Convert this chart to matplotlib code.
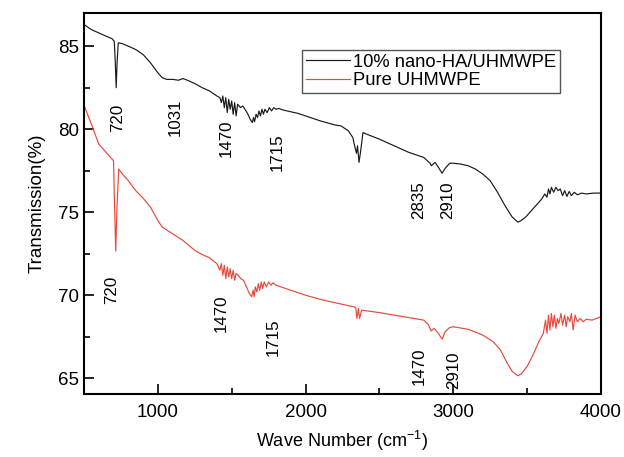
import matplotlib
matplotlib.use("Agg")
import matplotlib.pyplot as plt
from matplotlib.ticker import MultipleLocator

plt.rcParams['font.family'] = ['Liberation Sans', 'DejaVu Sans']
plt.rcParams['mathtext.fontset'] = 'custom'
plt.rcParams['mathtext.rm'] = 'Liberation Sans'
plt.rcParams['mathtext.it'] = 'Liberation Sans'

# 10% nano-HA/UHMWPE spectrum (wave number, transmission %)
ha_wn = [500, 550, 600, 650, 690, 705, 712, 718, 724, 732, 760, 800, 850, 900, 950,
         1000, 1030, 1060, 1100, 1140, 1170, 1200, 1250, 1300, 1350, 1400, 1420,
         1430, 1440, 1450, 1460, 1470, 1480, 1490, 1500, 1510, 1520, 1530, 1540,
         1550, 1560, 1575, 1590, 1610, 1625, 1640, 1648, 1655, 1665, 1675, 1685,
         1695, 1705, 1715, 1725, 1740, 1755, 1770, 1785, 1800, 1820, 1850, 1900,
         1950, 2000, 2100, 2200, 2240, 2290, 2320, 2335, 2345, 2352, 2362, 2372,
         2389, 2400, 2500, 2600, 2700, 2800, 2843, 2852, 2877, 2900, 2924, 2950,
         2978, 3000, 3050, 3100, 3150, 3200, 3250, 3300, 3350, 3400, 3438, 3460,
         3490, 3520, 3550, 3580, 3600, 3620, 3635, 3645, 3655, 3665, 3680, 3695,
         3710, 3725, 3740, 3755, 3770, 3785, 3800, 3820, 3840, 3870, 3900, 3950,
         4000]
ha_t = [86.3, 86.0, 85.8, 85.6, 85.45, 85.3, 84.0, 82.5, 84.0, 85.2, 85.15, 85.0,
        84.8, 84.5, 84.0, 83.4, 83.1, 83.0, 83.0, 82.95, 83.05, 82.95, 82.75, 82.5,
        82.3, 82.0, 81.9, 81.6, 82.0, 81.3, 81.9, 81.0, 81.8, 81.2, 81.7, 80.9,
        81.6, 80.8, 81.5, 81.4, 81.3, 81.4, 81.2, 80.9, 80.6, 80.4, 80.7, 80.45,
        80.9, 80.7, 81.1, 80.8, 81.2, 80.9, 81.2, 81.0, 81.3, 81.1, 81.3, 81.2,
        81.25, 81.15, 81.05, 80.95, 80.8, 80.5, 80.25, 80.2, 79.9, 79.5, 78.9, 78.55,
        79.0, 78.0, 78.6, 79.8, 79.75, 79.4, 79.0, 78.6, 78.3, 77.95, 77.8, 78.0,
        77.7, 77.35, 77.7, 77.95, 77.95, 77.9, 77.8, 77.6, 77.3, 76.9, 76.2, 75.4,
        74.7, 74.4, 74.5, 74.7, 75.0, 75.3, 75.6, 75.8, 76.1, 75.9, 76.4, 76.1,
        76.5, 76.2, 76.5, 76.3, 76.4, 76.0, 76.3, 75.95, 76.25, 76.0, 76.2, 76.05,
        76.15, 76.1, 76.15, 76.15]

# Pure UHMWPE spectrum
pe_wn = [500, 550, 600, 650, 690, 700, 708, 715, 722, 735, 760, 800, 850, 900, 950,
         1000, 1030, 1100, 1170, 1250, 1300, 1350, 1400, 1420, 1430, 1440, 1450,
         1460, 1470, 1480, 1490, 1500, 1510, 1520, 1530, 1545, 1560, 1580, 1600,
         1620, 1635, 1645, 1652, 1660, 1670, 1680, 1690, 1700, 1710, 1720, 1735,
         1750, 1765, 1780, 1800, 1850, 1900, 1950, 2000, 2100, 2200, 2300, 2330,
         2340, 2348, 2358, 2366, 2380, 2500, 2600, 2700, 2800, 2830, 2850, 2870,
         2895, 2925, 2945, 2975, 3000, 3100, 3200, 3270, 3320, 3360, 3400, 3438,
         3460, 3500, 3540, 3580, 3610, 3625, 3635, 3645, 3655, 3665, 3675, 3685,
         3695, 3705, 3715, 3730, 3740, 3755, 3765, 3775, 3790, 3800, 3812, 3825,
         3840, 3860, 3880, 3900, 3940, 3970, 4000]
pe_t = [81.45, 80.3, 79.1, 78.6, 78.2, 78.1, 75.0, 72.65, 75.0, 77.6, 77.3, 76.9,
        76.3, 75.85, 75.3, 74.5, 74.1, 73.7, 73.3, 72.7, 72.45, 72.25, 71.9, 71.5,
        71.9, 71.2, 71.8, 71.0, 71.7, 71.1, 71.6, 71.0, 71.5, 70.9, 71.3, 71.2,
        71.0, 70.9, 70.5, 70.1, 69.9, 70.3, 69.9, 70.5, 70.2, 70.7, 70.3, 70.8,
        70.4, 70.8, 70.5, 70.8, 70.6, 70.75, 70.6, 70.45, 70.3, 70.15, 70.0, 69.75,
        69.55, 69.35, 69.3, 69.25, 68.6, 69.2, 68.6, 69.1, 68.95, 68.8, 68.65, 68.5,
        68.25, 67.85, 68.0, 67.75, 67.35, 67.8, 68.05, 68.1, 67.95, 67.6, 67.2, 66.7,
        66.0, 65.4, 65.15, 65.25, 65.7, 66.4, 67.2, 67.7, 68.5, 67.7, 68.8, 67.9,
        68.9, 68.1, 68.8, 68.0, 68.6, 68.3, 68.9, 68.2, 68.8, 68.1, 68.7, 68.4,
        68.9, 67.9, 68.8, 68.4, 68.6, 68.4, 68.55, 68.5, 68.6, 68.7]

# Peak annotations: (text, wave number, transmission)
ann_text = ["720", "1031", "1470", "1715", "2835", "2910",
            "720", "1470", "1715", "1470", "2910"]
ann_x = [730, 1116, 1461, 1806, 2768, 2965, 690, 1428, 1780, 2768, 3005]
ann_y = [80.7, 80.7, 79.45, 78.6, 75.7, 75.7, 70.3, 68.9, 67.5, 65.7, 65.5]

labels = ["10% nano-HA/UHMWPE", "Pure UHMWPE"]

fig = plt.figure(figsize=(6.24, 4.57), dpi=100)
ax = fig.add_axes([0.1346, 0.1379, 0.8284, 0.8337])

ax.plot(ha_wn, ha_t, color='#1a1a1a', lw=0.85, label=labels[0])
ax.plot(pe_wn, pe_t, color='#e8493d', lw=0.85, label=labels[1])

for t, x, y in zip(ann_text, ann_x, ann_y):
    ax.text(x, y, t, rotation=90, ha='center', va='center', fontsize=12.2)

ax.set_xlim(500, 4000)
ax.set_ylim(64.05, 87.0)
ax.xaxis.set_major_locator(MultipleLocator(1000))
ax.xaxis.set_minor_locator(MultipleLocator(500))
ax.yaxis.set_major_locator(MultipleLocator(5))
ax.yaxis.set_minor_locator(MultipleLocator(2.5))
ax.tick_params(which='both', direction='in', labelsize=13.5)
ax.tick_params(which='major', length=7, width=1.2)
ax.tick_params(which='minor', length=4, width=1.2)
ax.tick_params(axis='x', pad=7)
for s in ax.spines.values():
    s.set_linewidth(1.5)

ax.set_xlabel("Wave Number (cm$^{\\mathregular{-1}}$)", fontsize=13, labelpad=6)
ax.set_ylabel("Transmission(%)", fontsize=13.5, labelpad=9)

leg = ax.legend(loc='upper left', bbox_to_anchor=(0.4217, 0.903), borderaxespad=0,
                fontsize=13.2, handlelength=2.4, fancybox=False, framealpha=1,
                edgecolor='#555555', borderpad=0.2, labelspacing=0.1,
                handletextpad=0.2)
leg.get_frame().set_linewidth(1.0)

fig.savefig("out.png", dpi=100)
